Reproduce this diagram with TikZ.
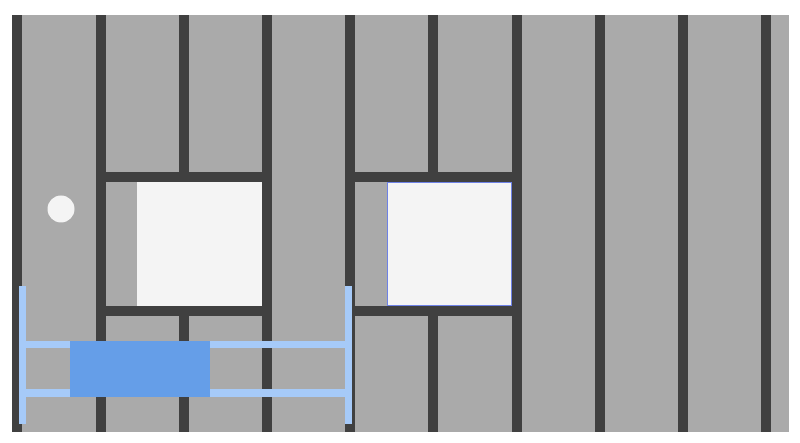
\documentclass[tikz,border=0pt]{standalone}
\definecolor{wallgray}{RGB}{170,170,170}
\definecolor{studgray}{RGB}{64,64,64}
\definecolor{glassw}{RGB}{244,244,244}
\definecolor{scaffblue}{RGB}{166,202,248}
\definecolor{blockblue}{RGB}{101,158,232}
\definecolor{edgeblue}{RGB}{110,130,230}
\begin{document}
\begin{tikzpicture}[x=1pt,y=-1pt,
  wallc/.style={fill=wallgray},
  studc/.style={fill=studgray},
  glass/.style={fill=glassw},
  scaff/.style={fill=scaffblue},
  block/.style={fill=blockblue}]
\useasboundingbox (0,0) rectangle (800,443);
\fill[white] (0,0) rectangle (800,443);
% wall
\fill[wallc] (12,15) rectangle (789,432);
% full-height studs
\foreach \x in {12,96,262,345,512,595,678,761}
  \fill[studc] (\x,15) rectangle (\x+10,432);
% cripple studs
\foreach \x in {179,428} {
  \fill[studc] (\x,15) rectangle (\x+10,172);
  \fill[studc] (\x,316) rectangle (\x+10,432);
}
% headers and sills
\fill[studc] (96,172) rectangle (272,182);
\fill[studc] (96,306) rectangle (272,316);
\fill[studc] (345,172) rectangle (521,182);
\fill[studc] (345,306) rectangle (521,316);
% windows
\fill[glass] (137,182) rectangle (262,306);
\fill[glass] (387,182) rectangle (511.5,306);
\draw[line width=0.6pt,draw=edgeblue] (387,182.3) rectangle (511.5,305.7);
% outlet
\fill[glass] (61,209) circle (13.5);
% scaffold
\fill[scaff] (19,341) rectangle (352,348);
\fill[scaff] (19,389) rectangle (352,397);
\fill[scaff] (19,286) rectangle (26,424);
\fill[scaff] (345,286) rectangle (352,424);
\fill[block] (70,341) rectangle (210,397);
\end{tikzpicture}
\end{document}
